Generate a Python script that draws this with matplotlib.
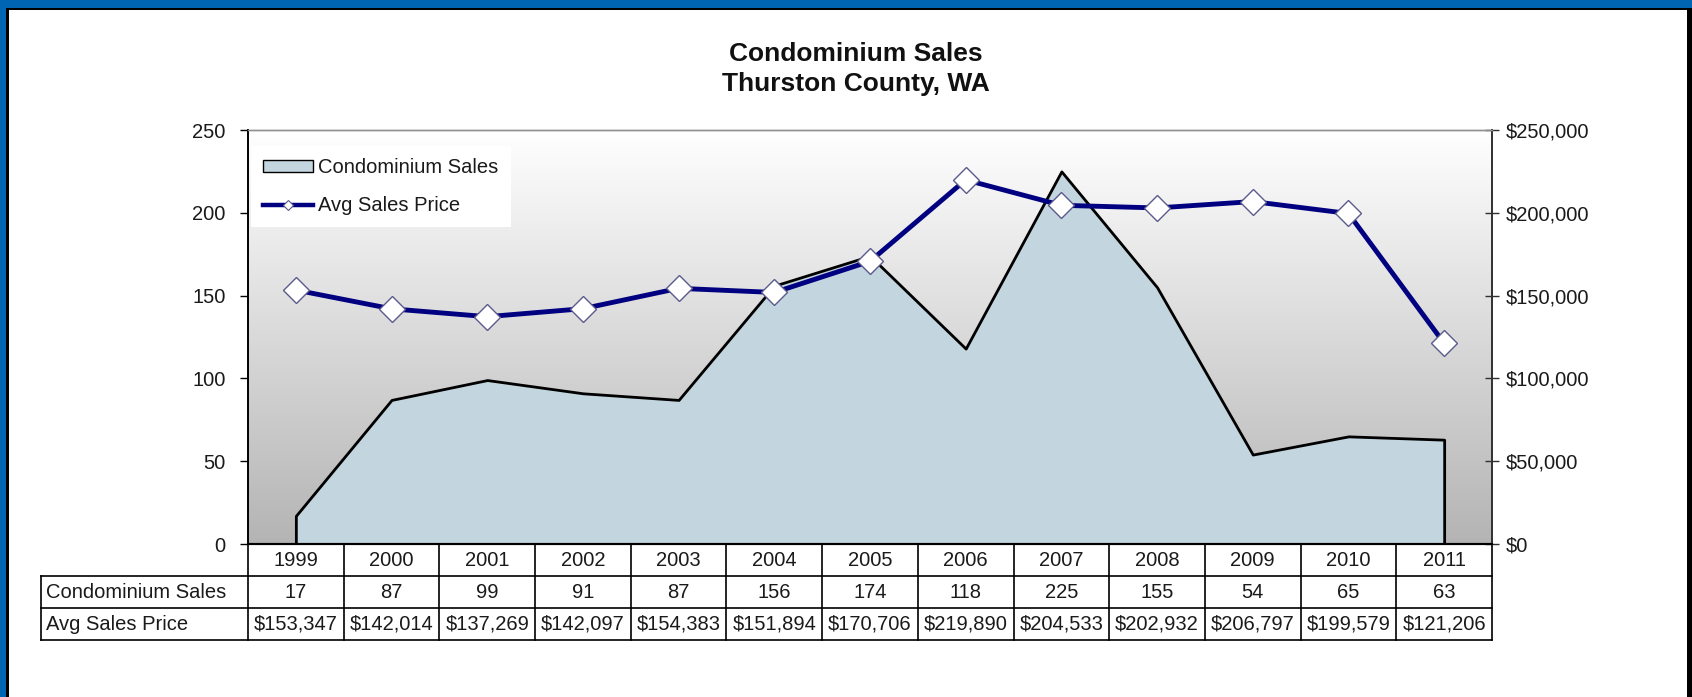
import numpy as np
import matplotlib
matplotlib.use("Agg")
import matplotlib.pyplot as plt
from matplotlib.patches import Rectangle, Patch
from matplotlib.lines import Line2D
from matplotlib.colors import LinearSegmentedColormap
from matplotlib.ticker import FuncFormatter, MultipleLocator
import matplotlib.transforms as mtransforms

plt.rcParams['font.family'] = ['Liberation Sans', 'DejaVu Sans']

# ---------------- data ----------------
years = ['1999', '2000', '2001', '2002', '2003', '2004', '2005',
         '2006', '2007', '2008', '2009', '2010', '2011']
sales = [17, 87, 99, 91, 87, 156, 174, 118, 225, 155, 54, 65, 63]
avg_price = [153347, 142014, 137269, 142097, 154383, 151894, 170706,
             219890, 204533, 202932, 206797, 199579, 121206]
series_names = ['Condominium Sales', 'Avg Sales Price']
title_lines = ['Condominium Sales', 'Thurston County, WA']

# ---------------- figure ----------------
W, H = 1692, 697
DPI = 100
fig = plt.figure(figsize=(W / DPI, H / DPI), dpi=DPI, facecolor='white')

def fx(px):
    return px / W

def fy(py):  # py measured from top
    return 1 - py / H

# frame
blue = '#0066b3'
fig.patches.append(Rectangle((0, fy(8)), 1, 8 / H, transform=fig.transFigure,
                             facecolor=blue, edgecolor='none', zorder=-5))
fig.patches.append(Rectangle((fx(9), fy(10)), 1, 2 / H, transform=fig.transFigure,
                             facecolor='black', edgecolor='none', zorder=-5))
fig.patches.append(Rectangle((0, 0), fx(6), fy(8), transform=fig.transFigure,
                             facecolor=blue, edgecolor='none', zorder=-5))
fig.patches.append(Rectangle((fx(6), 0), fx(3), fy(8), transform=fig.transFigure,
                             facecolor='black', edgecolor='none', zorder=-5))
fig.patches.append(Rectangle((fx(1687), 0), fx(5), fy(8), transform=fig.transFigure,
                             facecolor='black', edgecolor='none', zorder=-5))

# axes geometry (pixels)
L, R, T, B = 248, 1492, 130, 544
ax = fig.add_axes([fx(L), fy(B), fx(R - L), (B - T) / H])
ax2 = ax.twinx()

x = np.arange(len(years))
ax.set_xlim(-0.5, len(years) - 0.5)
ax.set_ylim(0, 250)
ax2.set_ylim(0, 250000)

# gradient background
cmap = LinearSegmentedColormap.from_list('bg', ['#b4b4b4', '#ffffff'])
grad = np.linspace(0, 1, 256).reshape(-1, 1)
ax.imshow(grad, cmap=cmap, aspect='auto', extent=[0, 1, 0, 1],
          transform=ax.transAxes, origin='lower', zorder=0)

# area
ax.fill_between(x, sales, 0, facecolor='#c3d5de', edgecolor='black',
                linewidth=2.0, zorder=2)

# price line
ax2.plot(x, avg_price, color='#000080', lw=3.5, marker='D', ms=13,
         mfc='white', mec='#5a5a8c', mew=1.0, zorder=3, solid_joinstyle='round')

# axes styling
fs = 14.5
ax.set_xticks([])
ax.yaxis.set_major_locator(MultipleLocator(50))
ax.tick_params(axis='y', direction='out', length=6, width=1, color='black',
               labelsize=fs, pad=10, labelcolor='#1a1a1a')
ax2.yaxis.set_major_locator(MultipleLocator(50000))
ax2.yaxis.set_major_formatter(FuncFormatter(lambda v, p: '${:,.0f}'.format(v)))
ax2.tick_params(axis='y', direction='inout', length=10, width=1, color='#303030',
                labelsize=fs, pad=5, labelcolor='#1a1a1a')
for a in (ax, ax2):
    a.spines['top'].set_color('#909090')
    a.spines['top'].set_linewidth(1.0)
    a.spines['left'].set_color('black')
    a.spines['left'].set_linewidth(1.2)
    a.spines['right'].set_color('#303030')
    a.spines['right'].set_linewidth(1.2)
    a.spines['bottom'].set_color('black')
    a.spines['bottom'].set_linewidth(1.5)
ax2.patch.set_visible(False)

# legend
handles = [Patch(facecolor='#c3d5de', edgecolor='black', linewidth=1.0),
           Line2D([0], [0], color='#000080', lw=3.2, marker='D', ms=5,
                  mfc='white', mec='#5a5a8c', mew=0.8)]
leg = ax2.legend(handles, series_names, loc='upper left',
                 bbox_to_anchor=(3 / (R - L), (B - 146) / (B - T)),
                 borderaxespad=0, frameon=True, fancybox=False, framealpha=1,
                 facecolor='white', edgecolor='none', fontsize=fs,
                 handlelength=2.5, handleheight=0.55, handletextpad=0.25,
                 borderpad=0.6, labelspacing=0.95)
for t in leg.get_texts():
    t.set_color('#1a1a1a')

# title
fig.text(fx(856), fy(54), title_lines[0], ha='center', va='center',
         fontsize=19, fontweight='bold', color='#111111')
fig.text(fx(856), fy(84), title_lines[1], ha='center', va='center',
         fontsize=19, fontweight='bold', color='#111111')

# data table below the axes
trans = mtransforms.blended_transform_factory(ax.transData, ax.transAxes)
row_h = 32 / (B - T)
xl = -0.5 - (L - 41) / ((R - L) / len(years))
xr = len(years) - 0.5
lc = 'black'
lw = 1.2
# horizontal lines
for k in (1, 2, 3):
    ax.plot([xl, xr], [-k * row_h, -k * row_h], color=lc, lw=lw,
            transform=trans, clip_on=False, zorder=5)
# vertical lines
for k in range(len(years) + 1):
    ax.plot([k - 0.5, k - 0.5], [0, -3 * row_h], color=lc, lw=lw,
            transform=trans, clip_on=False, zorder=5)
ax.plot([xl, xl], [-row_h, -3 * row_h], color=lc, lw=lw,
        transform=trans, clip_on=False, zorder=5)

tc = '#1a1a1a'
for i, yr in enumerate(years):
    ax.text(i, -0.5 * row_h, yr, ha='center', va='center', fontsize=fs,
            color=tc, transform=trans, clip_on=False)
    ax.text(i, -1.5 * row_h, str(sales[i]), ha='center', va='center',
            fontsize=fs, color=tc, transform=trans, clip_on=False)
    ax.text(i, -2.5 * row_h, '${:,}'.format(avg_price[i]), ha='center',
            va='center', fontsize=fs, color=tc, transform=trans, clip_on=False)

lab_trans = mtransforms.blended_transform_factory(fig.transFigure, ax.transAxes)
for r, name in enumerate(series_names):
    ax.text(fx(46), -(1.5 + r) * row_h, name, ha='left', va='center',
            fontsize=fs, color=tc, transform=lab_trans, clip_on=False)

fig.savefig('out.png', dpi=DPI, facecolor='white')
